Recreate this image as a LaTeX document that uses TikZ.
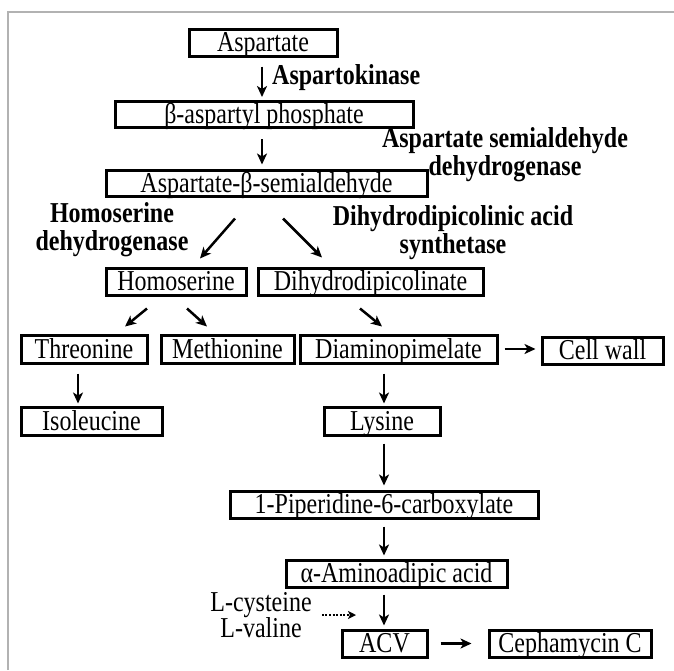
\documentclass[tikz,border=0pt]{standalone}
\usepackage{fontspec}
\usepackage{graphicx}
\setmainfont{Liberation Serif}
\usetikzlibrary{arrows.meta}
\newcommand{\vs}[1]{\scalebox{1}[1.2]{#1}}
\begin{document}
\begin{tikzpicture}[x=1pt,y=-1pt,
  box/.style={draw, line width=3pt, inner sep=0pt, minimum height=27pt,
    font=\fontsize{24}{27}\selectfont, text height=18pt, text depth=0pt},
  enz/.style={inner sep=0pt, align=center, font=\fontsize{24}{28}\selectfont\bfseries},
  plain/.style={inner sep=0pt, align=center, font=\fontsize{24}{26.5}\selectfont},
  arr/.style={line width=2.5pt, -{Stealth[length=11pt,width=10pt,inset=3pt]}},
  darr/.style={line width=2.4pt, dash pattern=on 2pt off 1.6pt, -{Stealth[length=8pt,width=8pt,inset=2pt]}}]
\useasboundingbox (0,0) rectangle (674,670);
\fill[white] (0,0) rectangle (674,670);
\draw[gray!60, line width=1.3pt] (8,670) -- (8,12) -- (674,12);

\coordinate (c1) at (262,0);
\coordinate (c2) at (78,0);
\coordinate (c3) at (384,0);

\node[box, minimum width=148pt] (asp) at (263,42.5) {\vs{Aspartate}};
\node[box, minimum width=298pt, minimum height=26pt] (bap) at (264,114.5) {\vs{β-aspartyl phosphate}};
\node[box, minimum width=321pt, minimum height=26pt] (asa) at (266.5,183) {\vs{Aspartate-β-semialdehyde}};
\node[box, minimum width=140pt] (hom) at (176,281.5) {\vs{Homoserine}};
\node[box, minimum width=225pt] (dhdp) at (370.5,281.5) {\vs{Dihydrodipicolinate}};
\node[box, minimum width=126pt, minimum height=28pt] (thr) at (84,349) {\vs{Threonine}};
\node[box, minimum width=133pt, minimum height=28pt] (met) at (227.5,349) {\vs{Methionine}};
\node[box, minimum width=197pt, minimum height=28pt] (dap) at (398.5,349) {\vs{Diaminopimelate}};
\node[box, minimum width=121pt] (cw) at (602.5,350.5) {\vs{Cell wall}};
\node[box, minimum width=141pt, minimum height=28pt] (ile) at (91.5,421) {\vs{Isoleucine}};
\node[box, minimum width=116pt, minimum height=28pt] (lys) at (382,421) {\vs{Lysine}};
\node[box, minimum width=308pt] (pip) at (384,504.5) {\vs{1-Piperidine-6-carboxylate}};
\node[box, minimum width=221pt] (aaa) at (396.5,573.5) {\vs{α-Aminoadipic acid}};
\node[box, minimum width=85pt] (acv) at (384.5,643.5) {\vs{ACV}};
\node[box, minimum width=162pt] (ceph) at (570,643.5) {\vs{Cephamycin C}};

\node[enz, anchor=west] (ak) at (272,78) {\vs{Aspartokinase}};
\node[enz] (asd) at (505,155) {\vs{Aspartate semialdehyde}\\\vs{dehydrogenase}};
\node[enz] (hsd) at (112,230) {\vs{Homoserine}\\\vs{dehydrogenase}};
\node[enz] (dps) at (453,233) {\vs{Dihydrodipicolinic acid}\\\vs{synthetase}};
\node[plain] (lcv) at (261,615) {\vs{L-cysteine}\\\vs{L-valine}};
\coordinate (dend) at (356,615);

\draw[arr, shorten <=9pt, shorten >=3pt] (asp.south -| c1) -- (bap.north -| c1);
\draw[arr, shorten <=10pt, shorten >=4pt] (bap.south -| c1) -- (asa.north -| c1);
\draw[arr] ([xshift=-31.5pt,yshift=-21pt]asa.south) -- ([xshift=24pt,yshift=8pt]hom.north);
\draw[arr] ([xshift=16.5pt,yshift=-21pt]asa.south) -- ([xshift=-48.5pt,yshift=9pt]dhdp.north);
\draw[arr] ([xshift=-29pt,yshift=-12pt]hom.south) -- ([xshift=41pt,yshift=7pt]thr.north);
\draw[arr] ([xshift=11pt,yshift=-12pt]hom.south) -- ([xshift=-20.5pt,yshift=7pt]met.north);
\draw[arr] ([xshift=-10.5pt,yshift=-12pt]dhdp.south) -- ([xshift=-16.5pt,yshift=7pt]dap.north);
\draw[arr, shorten <=6pt, shorten >=5pt] (dap.east) -- (dap.east -| cw.west);
\draw[arr, shorten <=9pt, shorten >=2pt] (thr.south -| c2) -- (ile.north -| c2);
\draw[arr, shorten <=9pt, shorten >=2pt] (dap.south -| c3) -- (lys.north -| c3);
\draw[arr, shorten <=7pt, shorten >=4pt] (lys.south -| c3) -- (pip.north -| c3);
\draw[arr, shorten <=7pt, shorten >=3pt] (pip.south -| c3) -- (aaa.north -| c3);
\draw[arr, shorten <=6pt, shorten >=3pt] (aaa.south -| c3) -- (acv.north -| c3);
\draw[arr, shorten <=12pt, shorten >=16pt] (acv.east) -- (acv.east -| ceph.west);
\draw[darr, shorten <=10pt] (lcv.east) -- (dend);
\end{tikzpicture}
\end{document}
